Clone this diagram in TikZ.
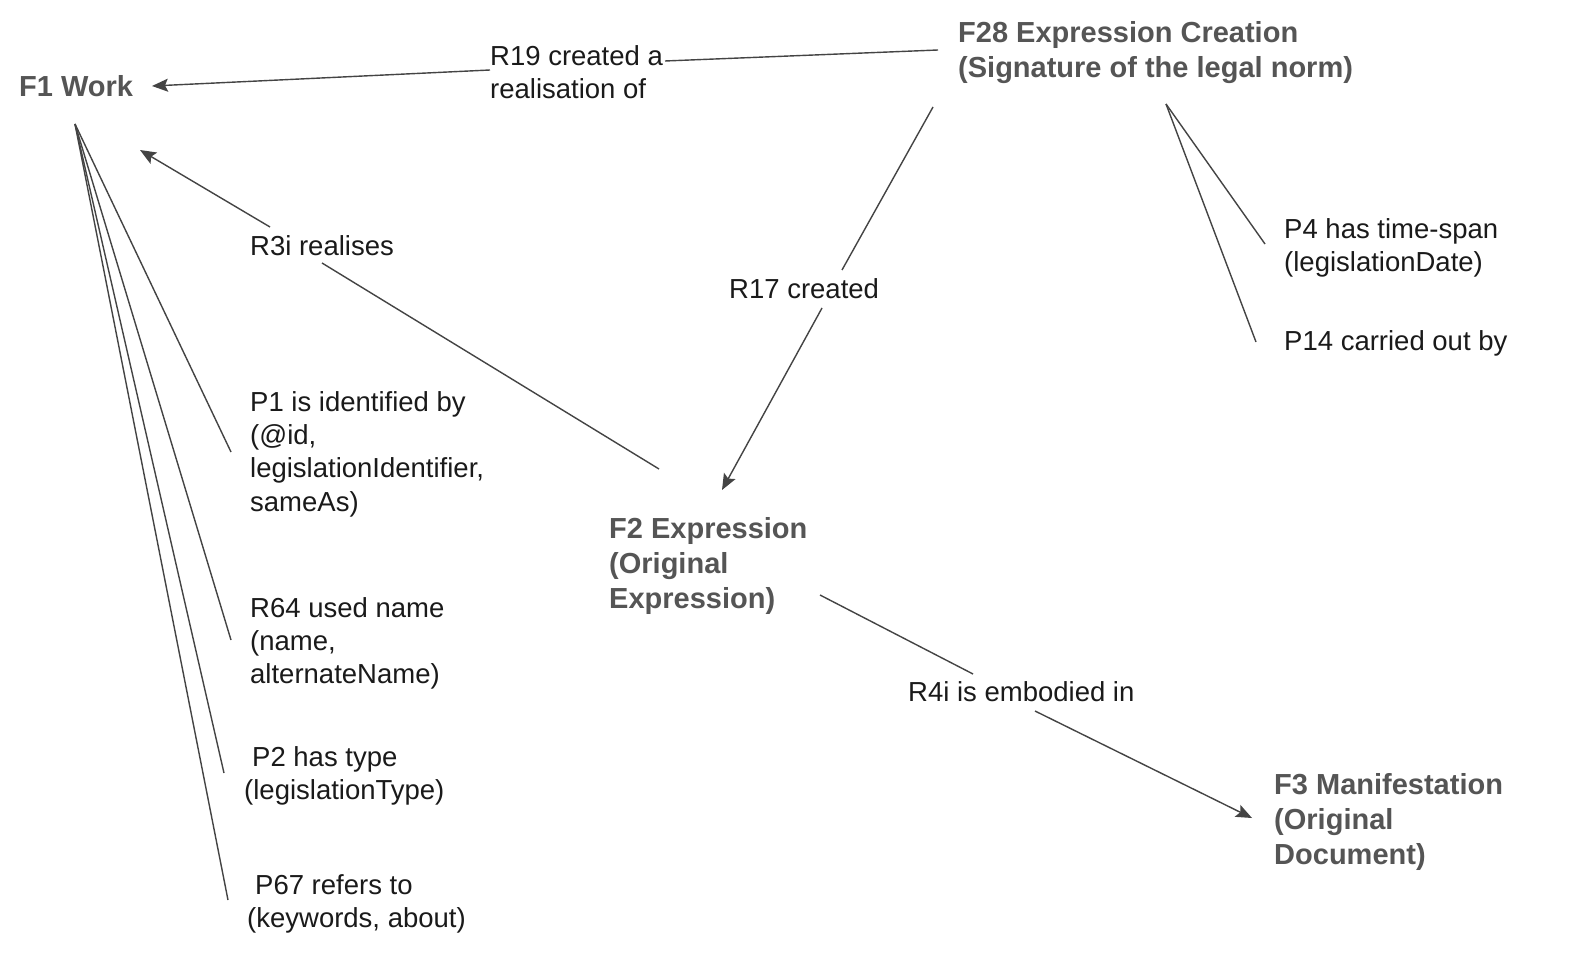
\documentclass[tikz,border=0pt]{standalone}
\usepackage{fontspec}
\setmainfont{Liberation Sans}
\usetikzlibrary{arrows.meta}
\definecolor{linegray}{HTML}{444444}
\definecolor{titlegray}{HTML}{555555}
\definecolor{labelblack}{HTML}{1A1A1A}
\begin{document}
\begin{tikzpicture}[x=1pt,y=-1pt,
  lbl/.style={anchor=north west, inner sep=0pt, align=left, font=\fontsize{27.5}{33.4}\selectfont, text=labelblack},
  ttl/.style={lbl, font=\fontsize{29}{35}\selectfont\bfseries, text=titlegray},
  conn/.style={draw=linegray, line width=1.4pt},
  arr/.style={conn, -{Stealth[length=16pt,width=13pt,inset=3pt]}}]
\useasboundingbox[fill=white] (0,0) rectangle (1586,965);
% class nodes
\node[ttl] (f1)  at (19,75)   {F1 Work};
\node[ttl] (f28) at (958,21)  {F28 Expression Creation\\(Signature of the legal norm)};
\node[ttl] (f2)  at (609,517) {F2 Expression\\(Original\\Expression)};
\node[ttl] (f3)  at (1274,773){F3 Manifestation\\(Original\\Document)};
% relation labels
\node[lbl] (r19) at (490,45)  {R19 created a\\realisation of};
\node[lbl] (r3i) at (250,235) {R3i realises};
\node[lbl] (r17) at (729,278) {R17 created};
\node[lbl] (r4i) at (908,681) {R4i is embodied in};
\node[lbl] (p4)  at (1284,218){P4 has time-span\\(legislationDate)};
\node[lbl] (p14) at (1284,330){P14 carried out by};
\node[lbl] (p1)  at (250,391) {P1 is identified by\\(@id,\\legislationIdentifier,\\sameAs)};
\node[lbl] (r64) at (250,597) {R64 used name\\(name,\\alternateName)};
\node[lbl] (p2)  at (244,746) {\hspace*{8pt}P2 has type\\(legislationType)};
\node[lbl] (p67) at (247,874) {\hspace*{8pt}P67 refers to\\(keywords, about)};
% connector end points
\coordinate (f28w)  at (938,50);
\coordinate (r19e)  at (665,61);
\coordinate (r19w)  at (490,70);
\coordinate (f1e)   at (152,86);
\coordinate (f2nw)  at (659,469);
\coordinate (r3ie)  at (322,263);
\coordinate (r3in)  at (270,227);
\coordinate (f1se)  at (140,150);
\coordinate (f28sw) at (933,107);
\coordinate (r17n)  at (842,270);
\coordinate (r17s)  at (822,308);
\coordinate (f2n)   at (722,490);
\coordinate (f2e)   at (820,595);
\coordinate (r4in)  at (973,674);
\coordinate (r4is)  at (1035,711);
\coordinate (f3w)   at (1252,818);
\coordinate (f28s)  at (1166,104);
\coordinate (p4w)   at (1265,244);
\coordinate (p14w)  at (1256,342);
\coordinate (f1s)   at (75,124);
\coordinate (p1w)   at (231,452);
\coordinate (r64w)  at (231,640);
\coordinate (p2w)   at (224,773);
\coordinate (p67w)  at (228,900);
% connectors
\draw[conn] (f28w) -- (r19e);
\draw[arr]  (r19w) -- (f1e);
\draw[conn] (f2nw) -- (r3ie);
\draw[arr]  (r3in) -- (f1se);
\draw[conn] (f28sw) -- (r17n);
\draw[arr]  (r17s) -- (f2n);
\draw[conn] (f2e) -- (r4in);
\draw[arr]  (r4is) -- (f3w);
\draw[conn] (f28s) -- (p4w);
\draw[conn] (f28s) -- (p14w);
\draw[conn] (f1s) -- (p1w);
\draw[conn] (f1s) -- (r64w);
\draw[conn] (f1s) -- (p2w);
\draw[conn] (f1s) -- (p67w);
\end{tikzpicture}
\end{document}
